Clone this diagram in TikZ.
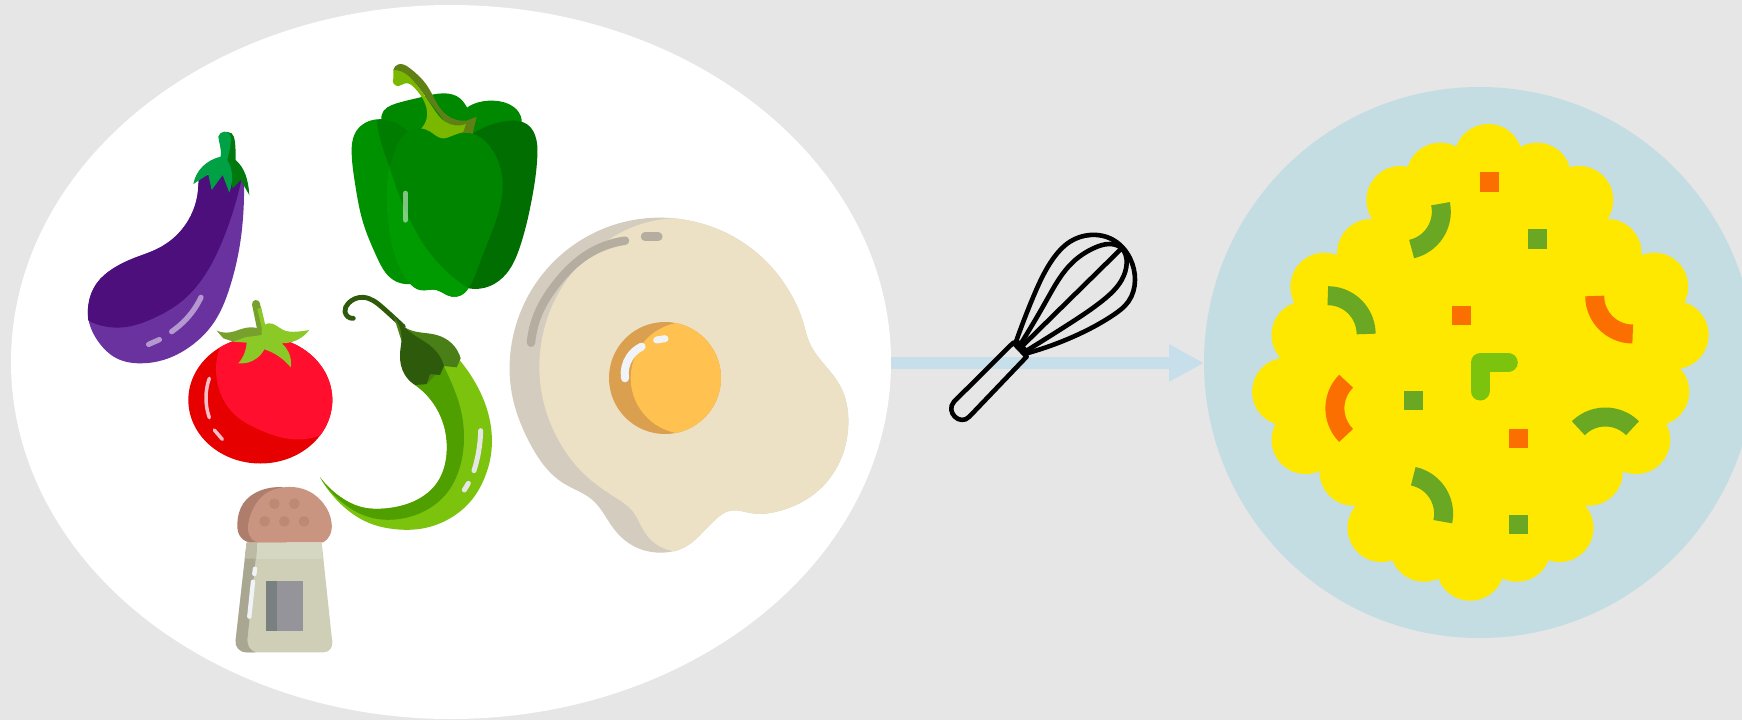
\documentclass[tikz,border=0pt]{standalone}
\usetikzlibrary{arrows.meta,hobby}
\definecolor{bgc}{HTML}{E6E6E6}
\definecolor{flow}{HTML}{C6DFEA}
\definecolor{plate}{HTML}{C4DDE3}
\definecolor{yolkc}{HTML}{FEE800}
\definecolor{gpiece}{HTML}{6AA823}
\definecolor{opiece}{HTML}{FB6F00}
\definecolor{lpiece}{HTML}{7BC30C}
\definecolor{eggd}{HTML}{4C0F7B}
\definecolor{eggl}{HTML}{6A329F}
\definecolor{calyxd}{HTML}{007A0E}
\definecolor{calyxl}{HTML}{00A045}
\definecolor{pepa}{HTML}{008800}
\definecolor{pepb}{HTML}{006E00}
\definecolor{pepc}{HTML}{009100}
\definecolor{pepd}{HTML}{007D00}
\definecolor{pepe}{HTML}{008500}
\definecolor{pepf}{HTML}{009B00}
\definecolor{stemd}{HTML}{5F8015}
\definecolor{steml}{HTML}{7AB800}
\definecolor{chia}{HTML}{4F9F00}
\definecolor{chib}{HTML}{4A7F17}
\definecolor{chic}{HTML}{2E5A0C}
\definecolor{toma}{HTML}{E60000}
\definecolor{tomb}{HTML}{FF0F2D}
\definecolor{tomh}{HTML}{F5BEC8}
\definecolor{leafd}{HTML}{78A02C}
\definecolor{leafl}{HTML}{8AC926}
\definecolor{saltm}{HTML}{CFCFB8}
\definecolor{salts}{HTML}{A9A692}
\definecolor{saltn}{HTML}{D6D7C2}
\definecolor{saltk}{HTML}{BDBBA5}
\definecolor{saltg}{HTML}{94949A}
\definecolor{saltv}{HTML}{788080}
\definecolor{shinec}{HTML}{F0F4F8}
\definecolor{capd}{HTML}{AE7D6C}
\definecolor{capl}{HTML}{C99580}
\definecolor{capo}{HTML}{BC8A73}
\definecolor{egga}{HTML}{D4CDBF}
\definecolor{eggb}{HTML}{ECE1C4}
\definecolor{eggc}{HTML}{B5AEA0}
\definecolor{yolka}{HTML}{DB9F50}
\definecolor{yolkb}{HTML}{FFC14F}
\tikzset{
 z1/.style={shift={(70,110)},x=.33333pt,y=-.33333pt},
 z2/.style={shift={(330,50)},x=.33333pt,y=-.33333pt},
 z3/.style={shift={(170,280)},x=.33333pt,y=-.33333pt},
 z4/.style={shift={(220,480)},x=.33333pt,y=-.33333pt},
 z5/.style={shift={(500,210)},x=.33333pt,y=-.33333pt},
 z6/.style={shift={(880,220)},x=.33333pt,y=-.33333pt},
 wire/.style={draw=black,line width=4.6pt,line cap=round,line join=round},
 shine/.style={line width=#1,line cap=round,line join=round},
 shine/.default=3.5pt,
 piece/.style={line width=19pt,line cap=butt},
 sm/.style={hobby},
 smc/.style={closed hobby},
}
\newcommand{\sweep}[6]{\draw[piece,draw=#6] plot[domain=#3:#4,samples=24,variable=\t] ({#1+#5*cos(\t)},{#2+#5*sin(\t)});}
\begin{document}
\begin{tikzpicture}[x=1pt,y=-1pt]
\useasboundingbox (0,0) rectangle (1742,720);
\clip (0,0) rectangle (1742,720);
\fill[bgc] (0,0) rectangle (1742,720);
\fill[white] (451,362) circle[x radius=440pt,y radius=357pt];
% flow arrow
\coordinate (flowA) at (891,363);
\coordinate (flowB) at (1204,363);
\draw[flow,line width=12pt,-{Triangle[length=35pt,width=35pt]}] (flowA) -- (flowB);
% plate
\fill[plate] (1479.5,362.5) circle[radius=275.5pt];
% scramble
\foreach \p/\q in {1488.3/158,1440.3/176.7,1537/176.7,1400.4/200,1579.2/200,1371.1/253,1607.5/253,1324.4/286.7,1654.2/286.7,1305.5/335,1674.6/335,1286.1/391.7,1655.2/391.7,1305.5/440,1636.2/440,1353.5/471.7,1588.8/471.7,1381.5/528,1559.5/528,1424/547.7,1517/547.7,1470.3/566.7}
  \fill[yolkc] (\p,\q) circle[radius=34pt];
\fill[yolkc] (1488.3,158)--(1537,176.7)--(1579.2,200)--(1607.5,253)--(1654.2,286.7)--(1674.6,335)--(1655.2,391.7)--(1636.2,440)--(1588.8,471.7)--(1559.5,528)--(1517,547.7)--(1470.3,566.7)--(1424,547.7)--(1381.5,528)--(1353.5,471.7)--(1305.5,440)--(1286.1,391.7)--(1305.5,335)--(1324.4,286.7)--(1371.1,253)--(1400.4,200)--(1440.3,176.7)--cycle;
\fill[opiece] (1480,172.3) rectangle (1499,191.7);
\fill[gpiece] (1527.7,229.3) rectangle (1546.7,248.7);
\fill[opiece] (1451.7,305.7) rectangle (1470.7,324.7);
\fill[gpiece] (1404,391) rectangle (1423,410);
\fill[opiece] (1508.7,429) rectangle (1527.7,448.3);
\fill[gpiece] (1508.7,514.7) rectangle (1527.7,533.7);
\sweep{1403}{211.7}{-12}{77}{38.3}{gpiece}
\sweep{1327.8}{334}{-90}{0}{38.3}{gpiece}
\sweep{1632.7}{296}{90}{180}{38}{opiece}
\sweep{1373.2}{408.3}{135}{225}{38.3}{opiece}
\sweep{1605.4}{455.3}{225}{315}{38.3}{gpiece}
\sweep{1405.3}{513.7}{-78}{12}{38.3}{gpiece}
\draw[lpiece,line width=19pt,line cap=round,line join=round] (1508.3,362.7) -- (1480,362.7) -- (1480,391);
% whisk
\begin{scope}[z6]
\draw[wire] plot[sm] coordinates {(408,365)(460,230)(520,115)(570,65)(630,45)(700,60)(750,115)(765,180)(745,245)(700,285)(580,350)(440,400)};
\draw[wire] plot[sm] coordinates {(420,375)(500,240)(580,125)(640,85)(690,72)(725,85)(740,130)(725,180)(670,240)(570,310)(435,395)};
\draw[wire] (425,380) -- (725,85);
\draw[wire] (400,368) -- (222,545) .. controls (195,575) and (240,620) .. (268,590) -- (440,410) -- cycle;
\fill[black] (400,365) -- (412,355) -- (450,395) -- (440,410) -- cycle;
\end{scope}
% eggplant
\begin{scope}[z1]
\fill[eggl] plot[sm] coordinates {(522,225)(520,310)(507,420)(480,530)(430,640)(360,710)(280,750)(210,760)(140,745)(85,695)(58,640)(55,585)(80,520)(130,475)(190,445)(265,415)(330,365)(370,300)(385,225)} -- (388,195) -- (515,195) -- cycle;
\fill[eggd] plot[sm] coordinates {(55,632)(160,652)(250,625)(340,570)(420,470)(470,360)(512,220)} -- (515,195) -- (388,195) -- plot[sm] coordinates {(385,225)(370,300)(330,365)(265,415)(190,445)(130,475)(80,520)(55,585)(55,632)} -- cycle;
\draw[shine=5.3pt,draw=white,opacity=.5] (305,665) .. controls (340,640) and (370,610) .. (393,562);
\draw[shine=5.3pt,draw=white,opacity=.5] (236,703) -- (268,689);
\fill[calyxd] (470,65) -- (485,70) .. controls (495,80) and (497,100) .. (497,150) .. controls (525,175) and (535,210) .. (538,255) -- (512,210) -- (488,235) -- (470,150) -- cycle;
\fill[calyxl] (445,80) .. controls (448,62) and (478,58) .. (482,80) .. controls (485,110) and (475,130) .. (472,150) .. controls (490,180) and (490,215) .. (478,248) -- (458,195) -- (425,240) -- (415,193) -- (370,222) .. controls (378,180) and (410,150) .. (452,140) .. controls (455,115) and (447,100) .. (445,80) -- cycle;
\end{scope}
% bell pepper
\begin{scope}[z2]
\fill[pepa] plot[smc] coordinates {(155,195)(200,160)(280,140)(340,130)(390,145)(415,180)(430,260)(250,260)};
\fill[pepa] plot[smc] coordinates {(395,195)(430,162)(490,152)(550,170)(575,210)(430,260)};
\fill[pepb] plot[sm] coordinates {(430,250)(490,222)(545,212)(590,222)(615,255)(622,320)(605,450)(570,590)(530,670)(480,708)(415,715)} -- (400,500) -- cycle;
\fill[pepc] plot[sm] coordinates {(240,702)(190,690)(140,620)(100,520)(75,400)(65,310)(75,250)(100,222)(140,208)(190,215)(240,250)} -- (300,500) -- cycle;
\fill[pepd] (140,210) .. controls (170,205) and (205,215) .. (235,245) -- (178,350) .. controls (160,300) and (145,260) .. (140,210) -- cycle;
\fill[stemd] plot[sm] coordinates {(190,60)(205,43)(240,55)(290,105)(350,195)(410,212)} -- (440,200) -- (428,252) -- (400,255) -- (345,215) -- (260,105) -- (190,60) -- cycle;
\fill[steml] plot[sm] coordinates {(190,60)(215,65)(260,105)(310,175)(345,215)(408,222)} -- (400,245) -- (335,270) -- (272,237) -- plot[sm] coordinates {(272,237)(290,205)(285,160)(255,115)(225,100)(205,108)(190,85)} -- cycle;
\fill[pepe] plot[smc] coordinates {(250,237)(300,245)(335,265)(375,255)(430,252)(480,290)(515,370)(510,470)(480,560)(445,650)(415,715)(380,740)(350,735)(320,720)(270,720)(235,695)(195,620)(175,520)(170,420)(185,330)(210,270)};
\fill[pepf] plot[sm] coordinates {(178,350)(230,490)(300,610)(415,715)} -- plot[sm] coordinates {(415,715)(380,740)(350,735)(320,720)(270,720)(235,695)(195,620)(175,520)(170,420)(178,350)} -- cycle;
\draw[shine=5.3pt,draw=white,opacity=.5] (226,430) -- (226,510);
\end{scope}
% chili
\begin{scope}[z3]
\draw[line width=4.8pt,line cap=round,draw=chic] plot[sm] coordinates {(700,140)(640,85)(580,52)(535,70)(525,95)(550,115)};
\fill[lpiece] plot[sm] coordinates {(860,230)(905,290)(945,370)(965,460)(962,530)(945,590)(905,660)(840,715)(760,745)(680,748)(600,730)(510,670)(450,592)} -- plot[sm] coordinates {(450,592)(510,650)(570,680)(650,685)(740,660)(800,610)(830,520)(825,450)(790,370)(735,315)} -- cycle;
\fill[chia] plot[sm] coordinates {(450,592)(520,670)(600,712)(680,718)(760,695)(830,640)(870,560)(882,470)(870,380)(845,310)(820,255)} -- plot[sm] coordinates {(735,315)(790,370)(825,450)(830,520)(800,610)(740,660)(650,685)(570,680)(510,650)(450,592)} -- cycle;
\fill[chib] plot[sm] coordinates {(670,105)(720,150)(800,165)(845,190)(872,235)} -- (860,262) -- (822,258) -- (770,312) -- (735,315) -- (700,200) -- cycle;
\fill[chic] plot[sm] coordinates {(670,110)(740,170)(790,205)(822,258)} -- (810,285) -- (780,282) -- (770,312) -- (735,315) -- plot[sm] coordinates {(735,315)(705,285)(690,220)(695,170)(670,110)} -- cycle;
\draw[shine=5pt,draw=bgc] plot[sm] coordinates {(932,452)(925,520)(912,572)};
\draw[shine=5pt,draw=bgc] (895,610) -- (883,630);
% tomato
\fill[toma] (271,360) circle[x radius=72pt,y radius=63.5pt];
\begin{scope}
\clip (271,360) circle[x radius=72pt,y radius=63.5pt];
\fill[tomb] plot[sm] coordinates {(165,170)(140,240)(145,320)(190,400)(270,450)(370,478)(470,458)} -- (520,300) -- (400,120) -- cycle;
\end{scope}
\draw[shine=3.5pt,draw=tomh] plot[sm] coordinates {(118,295)(108,350)(118,413)};
\draw[shine=3.5pt,draw=tomh] (133,450) -- (157,478);
\draw[line width=8pt,line cap=round,draw=leafd] (258,72) -- (275,155);
\draw[line width=4pt,draw=leafl] (268,85) -- (283,150);
\fill[leafd] plot[sm] coordinates {(140,152)(180,157)(230,143)(278,150)} -- (278,170) -- (230,175) -- (190,185) -- (160,175) -- cycle;
\fill[leafl] plot[sm] coordinates {(275,150)(295,130)(340,150)(380,155)(418,150)} -- plot[sm] coordinates {(418,150)(395,172)(335,190)} -- plot[sm] coordinates {(335,190)(355,215)(362,262)} -- plot[sm] coordinates {(362,262)(320,225)(283,208)} -- plot[sm] coordinates {(283,208)(260,235)(205,250)} -- plot[sm] coordinates {(205,250)(225,215)(230,188)} -- (190,185) -- (225,172) -- (275,165) -- cycle;
\end{scope}
% salt shaker
\begin{scope}[z4]
\fill[saltm] (80,188) -- (305,188) -- (335,470) .. controls (342,500) and (330,517) .. (310,517) -- (80,517) .. controls (58,517) and (44,500) .. (47,480) -- cycle;
\fill[salts] (80,188) -- (112,188) -- (82,480) .. controls (82,500) and (92,512) .. (107,517) -- (80,517) .. controls (58,517) and (44,500) .. (47,480) -- cycle;
\fill[saltn] (112,188) rectangle (305,236);
\fill[saltk] (80,188) -- (112,188) -- (107,236) -- (74,236) -- cycle;
\fill[saltg] (138,304) rectangle (249,454);
\fill[saltv] (138,304) rectangle (170,454);
\draw[shine=4.4pt,draw=shinec] (105,266) -- (103,282);
\draw[shine=4.4pt,draw=shinec] (99,305) -- (88,410);
\fill[capd] plot[sm] coordinates {(88,187)(58,165)(52,130)(70,70)(120,32)(190,22)} -- (200,187) -- cycle;
\fill[capl] plot[sm] coordinates {(310,187)(330,165)(335,130)(310,70)(250,27)(190,22)(135,42)(100,85)(85,130)(88,165)(110,187)} -- cycle;
\foreach \p/\q in {163/71,223/71,134/124,193/124,252/124}
  \fill[capo] (\p,\q) circle[radius=5.4pt];
\end{scope}
% egg
\begin{scope}[z5]
\fill[egga] plot[smc] coordinates {(480,23)(558,30)(705.5,83)(825.5,184)(888.7,283)(909,335)(925,390)(948.6,433)(1019.7,526)(1045,640)(1019.7,754)(948.6,847)(845,901)(751.5,909)(690,902)(640,935)(619,955.5)(565,1005)(480,1028)(395,1005)(340.7,955.5)(300,895)(275,868)(190,819.5)(89.4,699.5)(35.8,552)(35.8,396)(89.4,248.5)(190,128.5)(325.8,50)};
\fill[eggb] plot[sm] coordinates {(525,25)(558,30)(705.5,83)(825.5,184)(888.7,283)(909,335)(925,390)(948.6,433)(1019.7,526)(1045,640)(1019.7,754)(948.6,847)(845,901)(751.5,909)(690,902)(640,935)(619,955.5)(565,1005)(525,1024)} -- plot[sm] coordinates {(525,1024)(440,975)(395,900)(344,861)(250,789.6)(178.6,696)(125,548.5)(125,391.5)(178.6,244)(279.5,124)(415,45)(525,25)} -- cycle;
\draw[shine=8.5pt,draw=eggc] plot[sm] coordinates {(375,92)(260,135)(170,220)(115,310)(93,398)};
\draw[shine=8.5pt,draw=eggc] (435,80) -- (475,80);
\fill[yolka] (495,504) circle[radius=56pt];
\begin{scope}
\clip (495,504) circle[radius=56pt];
\fill[yolkb] (560,504) circle[radius=56pt];
\end{scope}
\draw[shine=8pt,draw=shinec] plot[sm] coordinates {(425,410)(390,440)(375,505)};
\draw[shine=7pt,draw=shinec] (470,390) -- (495,386);
\end{scope}
\end{tikzpicture}
\end{document}
